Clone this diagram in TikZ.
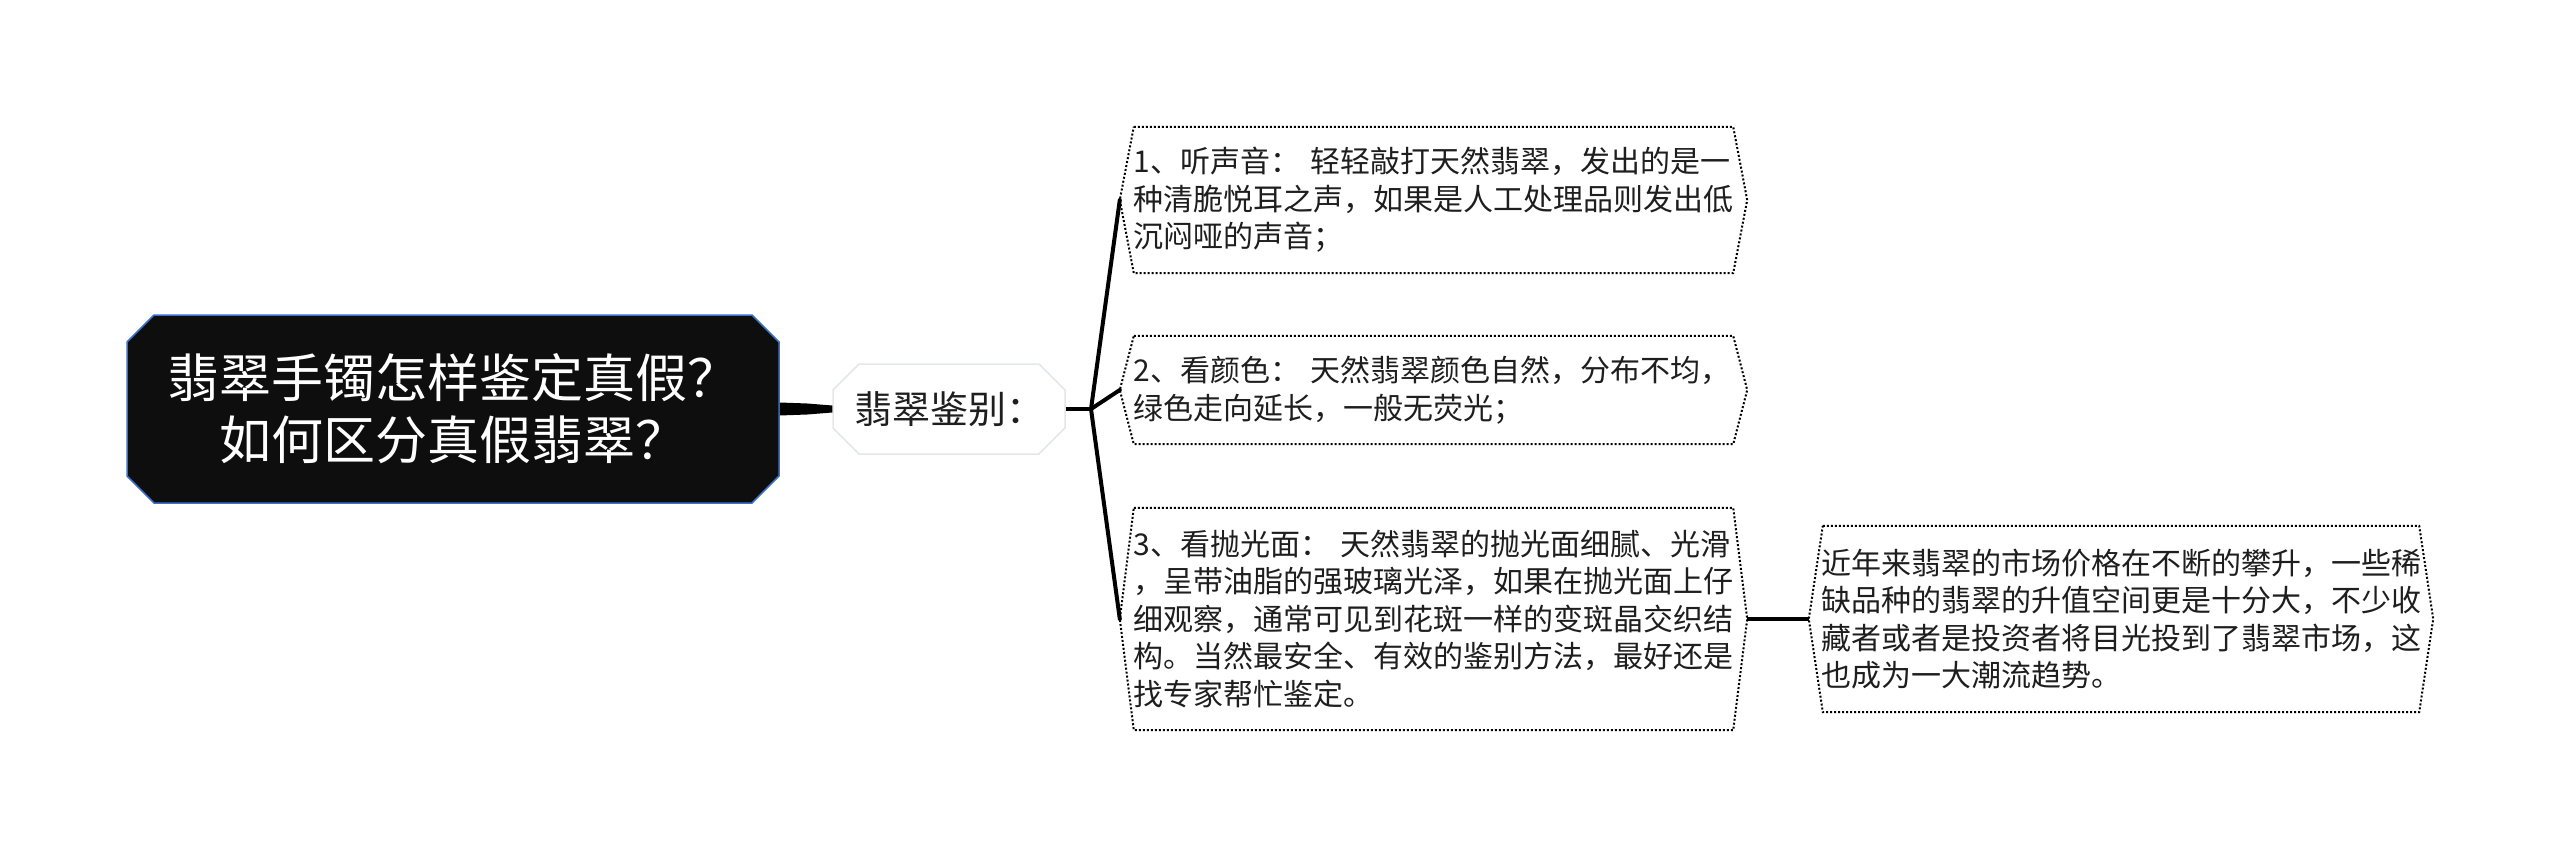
\documentclass[tikz,border=0pt]{standalone}
\usepackage{fontspec}
\setmainfont{Noto Sans CJK SC}
\usepackage{tikz}
\usetikzlibrary{shapes.misc}
\definecolor{raiz}{HTML}{0E0E0E}
\definecolor{raizborde}{HTML}{3C70CC}
\definecolor{grisclaro}{HTML}{E3E6EA}
\definecolor{tinta}{HTML}{1E1E1E}
\tikzset{
  rootbox/.style={chamfered rectangle,chamfered rectangle xsep=10pt,chamfered rectangle ysep=17pt,
    draw=raizborde,line width=1.5pt,fill=raiz,text=white,align=center,
    minimum width=652pt,minimum height=188pt,inner sep=0pt,font=\fontsize{52}{62}\selectfont},
  midbox/.style={chamfered rectangle,chamfered rectangle xsep=12pt,chamfered rectangle ysep=14pt,
    draw=grisclaro,line width=1.5pt,fill=white,text=tinta,
    minimum width=232pt,minimum height=90pt,inner sep=0pt,font=\fontsize{38}{44}\selectfont},
  leafbox/.style={rectangle,text=tinta,align=left,text width=600pt,inner sep=0pt,
    minimum width=627pt,font=\fontsize{30}{37.5}\selectfont},
  leafframe/.style={draw=black,line width=2pt,dash pattern=on 2pt off 2pt},
  branch/.style={draw=black,line width=4pt},
  trunk/.style={fill=black}
}
\begin{document}
\begin{tikzpicture}[x=1pt,y=-1pt]
\useasboundingbox (0,0) rectangle (2560,859);

\node[rootbox] (root) at (453,409) {翡翠手镯怎样鉴定真假？\\如何区分真假翡翠？};

\node[midbox] (mid) at (949,409) {翡翠鉴别：};

\node[leafbox,minimum height=146pt] (c1) at (1433.5,200) {1、听声音： 轻轻敲打天然翡翠，发出的是一\\
种清脆悦耳之声，如果是人工处理品则发出低\\
沉闷哑的声音；};

\node[leafbox,minimum height=108pt] (c2) at (1433.5,390) {2、看颜色： 天然翡翠颜色自然，分布不均，\\
绿色走向延长，一般无荧光；};

\node[leafbox,minimum height=222pt] (c3) at (1433.5,619) {3、看抛光面： 天然翡翠的抛光面细腻、光滑\\
，呈带油脂的强玻璃光泽，如果在抛光面上仔\\
细观察，通常可见到花斑一样的变斑晶交织结\\
构。当然最安全、有效的鉴别方法，最好还是\\
找专家帮忙鉴定。};

\node[leafbox,minimum width=624pt,minimum height=186pt] (c4) at (2121,619) {近年来翡翠的市场价格在不断的攀升，一些稀\\
缺品种的翡翠的升值空间更是十分大，不少收\\
藏者或者是投资者将目光投到了翡翠市场，这\\
也成为一大潮流趋势。};

\foreach \n in {c1,c2,c3,c4}
  \draw[leafframe] ([xshift=14pt]\n.north west) -- ([xshift=-14pt]\n.north east) -- (\n.east)
    -- ([xshift=-14pt]\n.south east) -- ([xshift=14pt]\n.south west) -- (\n.west) -- cycle;

\coordinate (fork) at (1091,409);

\fill[trunk] ([yshift=6.5pt]root.east) -- ([xshift=-25pt,yshift=5.5pt]mid.west) -- ([yshift=3.5pt]mid.west)
  -- ([yshift=-3.5pt]mid.west) -- ([xshift=-25pt,yshift=-5.5pt]mid.west) -- ([yshift=-6.5pt]root.east) -- cycle;
\draw[branch] (mid.east) -- (fork);
\foreach \c in {c1,c2,c3}
  \draw[branch,line cap=round] (fork) -- (\c.west);
\draw[branch] (c3.east) -- (c4.west);
\end{tikzpicture}
\end{document}
